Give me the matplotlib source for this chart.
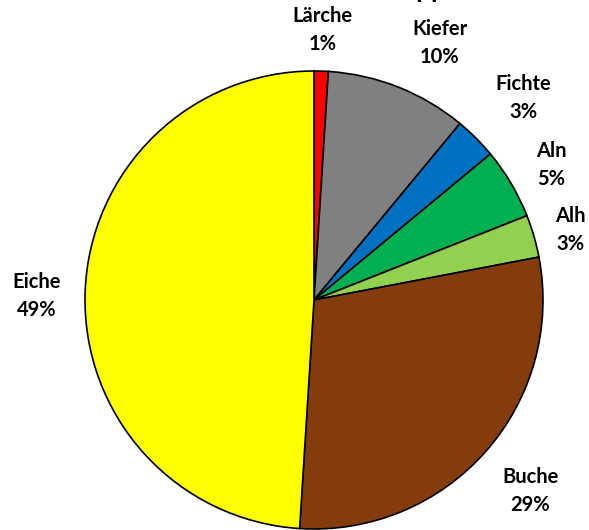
import matplotlib
matplotlib.use("Agg")
import matplotlib.pyplot as plt
import numpy as np

names = ["Lärche", "Kiefer", "Fichte", "Aln", "Alh", "Buche", "Eiche"]
shares = [1, 10, 3, 5, 3, 29, 49]
colors = ["#FF0000", "#808080", "#0070C0", "#00B050", "#92D050", "#843C0C", "#FFFF00"]
label_dist = [1.18, 1.25, 1.27, 1.19, 1.16, 1.26, 1.21]
label_nudge = [0, -4.5, -1, -1, -1, 0, 1]   # degrees

plt.rcParams["font.family"] = ["Lato", "DejaVu Sans"]

fig = plt.figure(figsize=(5.89, 5.30), dpi=100)
ax = fig.add_axes([85 / 589, 1 / 530, 458 / 589, 458 / 530])

wedges, _ = ax.pie(shares, colors=colors, startangle=90, counterclock=False,
                   radius=1, wedgeprops=dict(edgecolor="black", linewidth=1.2))

for w, name, val, d, nd in zip(wedges, names, shares, label_dist, label_nudge):
    mid = np.deg2rad((w.theta1 + w.theta2) / 2 + nd)
    ax.text(d * np.cos(mid), d * np.sin(mid), f"{name}\n{val}%",
            ha="center", va="center", fontsize=14.5, fontweight="bold",
            linespacing=1.5, clip_on=False)

ax.set_xlim(-1, 1)
ax.set_ylim(-1, 1)
ax.set_aspect("equal")
ax.axis("off")

# clipped title at the very top (only the descenders show)
fig.text(431 / 589, 1.0 + 3.5 / 530, "pp", ha="center", va="baseline",
         fontsize=20, fontweight="bold")

fig.savefig("out.png", dpi=100)
